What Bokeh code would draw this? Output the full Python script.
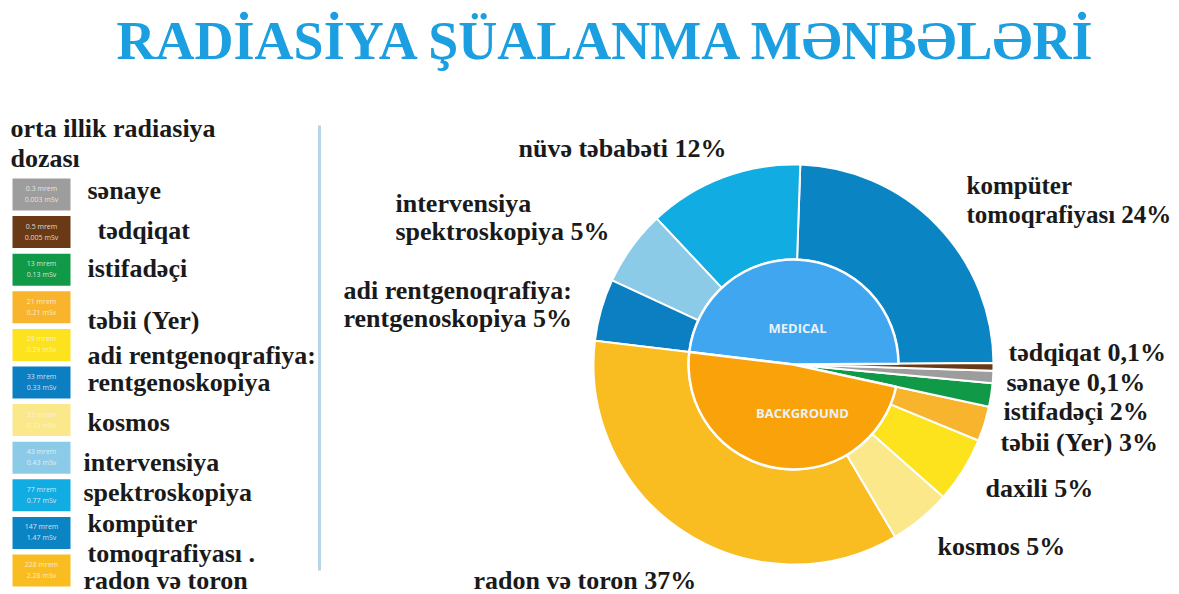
import numpy as np
from bokeh.plotting import figure
from bokeh.models import Range1d
from bokeh.core.properties import value
from bokeh.embed import file_html
from bokeh.resources import INLINE

# ---------------- data ----------------
title_text = "RADİASİYA ŞÜALANMA MƏNBƏLƏRİ"

# outer ring, counter-clockwise from the right
slice_names = ["kompüter tomoqrafiyası", "nüvə təbabəti", "intervensiya spektroskopiya",
               "adi rentgenoqrafiya", "radon və toron", "kosmos", "daxili", "təbii (Yer)",
               "istifadəçi", "sənaye", "tədqiqat"]
slice_group = ["medical", "medical", "medical", "medical",
               "background", "background", "background", "background",
               "other", "other", "other"]
slice_share = [24.3, 12.5, 6.1, 5.0, 35.3, 5.0, 5.3, 2.8, 1.9, 1.0, 0.6]   # visual share of circle, %
slice_colors = ["#0b84c4", "#10ace2", "#8bcbe8", "#0b7fc1", "#f9bd21", "#fbe88b",
                "#fde21e", "#f8b42c", "#109a47", "#9d9d9d", "#6a3a16"]

group_names = ["medical", "background"]
group_labels = ["MEDICAL", "BACKGROUND"]
group_colors = ["#40a6f0", "#f9a20a"]

# legend (left)
legend_mrem = ["0.3 mrem", "0.5 mrem", "13 mrem", "21 mrem", "29 mrem", "33 mrem",
               "33 mrem", "43 mrem", "77 mrem", "147 mrem", "228 mrem"]
legend_msv = ["0.003 mSv", "0.005 mSv", "0.13 mSv", "0.21 mSv", "0.29 mSv", "0.33 mSv",
              "0.33 mSv", "0.43 mSv", "0.77 mSv", "1.47 mSv", "2.28 mSv"]
legend_colors = ["#9d9d9d", "#6a3a16", "#109a47", "#f8b42c", "#fde21e", "#0b7fc1",
                 "#fbe88b", "#8bcbe8", "#10ace2", "#0b84c4", "#f9bd21"]
legend_texts = ["sənaye", "tədqiqat", "istifadəçi", "təbii (Yer)", "adi rentgenoqrafiya:",
                "rentgenoskopiya", "kosmos", "intervensiya", "spektroskopiya", "kompüter",
                "tomoqrafiyası .", "radon və toron"]

# pie labels
pie_label_texts = ["nüvə təbabəti 12%", "kompüter", "tomoqrafiyası 24%", "intervensiya",
                   "spektroskopiya 5%", "adi rentgenoqrafiya:", "rentgenoskopiya 5%",
                   "tədqiqat 0,1%", "sənaye 0,1%", "istifadəçi 2%", "təbii (Yer) 3%",
                   "daxili 5%", "kosmos 5%", "radon və toron 37%"]

# ---------------- layout helpers ----------------
W, H = 1179, 594
def Y(py):
    return H - py

p = figure(width=W, height=H, output_backend="svg", toolbar_location=None,
           x_range=Range1d(0, W), y_range=Range1d(0, H),
           min_border=0, background_fill_color="white", border_fill_color="white")
p.axis.visible = False
p.grid.visible = False
p.outline_line_color = None

serif = value("Liberation Serif")
sans = value("Open Sans")

# title
p.text(x=[607], y=[Y(40)], text=[title_text], text_font=serif, text_font_size="54px",
       text_font_style="bold", text_color="#1c9fe0", text_align="center",
       text_baseline="middle")

# divider
p.segment(x0=[319], y0=[Y(125)], x1=[319], y1=[Y(570)], line_color="#b8d5e6", line_width=3)

# ---------------- pie ----------------
cx, cy = 793, Y(364)
r_in, r_out = 105, 200
start0 = np.deg2rad(0.4)
share = np.array(slice_share, dtype=float)
ang = share / share.sum() * 2 * np.pi
ends = start0 + np.cumsum(ang)
starts = ends - ang

inner_r = [r_in if g != "other" else 18 for g in slice_group]
p.annular_wedge(x=cx, y=cy, inner_radius=inner_r, outer_radius=r_out,
                start_angle=list(starts), end_angle=list(ends),
                fill_color=slice_colors, line_color="white", line_width=2)

for gname, gcol in zip(group_names, group_colors):
    idx = [i for i, g in enumerate(slice_group) if g == gname]
    p.wedge(x=cx, y=cy, radius=r_in, start_angle=starts[idx[0]], end_angle=ends[idx[-1]],
            fill_color=gcol, line_color="white", line_width=2.5)

p.text(x=[797, 802], y=[Y(327), Y(412)], text=group_labels, text_font=sans,
       text_font_size="13px", text_font_style="bold", text_color="#e9f2fb",
       text_align="center", text_baseline="middle")

# pie labels
pl_x = [518, 966, 966, 395, 395, 343, 343, 1008, 1006, 1003, 1000, 985, 937, 473]
pl_y = [148, 185, 214, 203, 231, 290, 318, 352, 382, 411, 442, 488, 546, 580]
pl_size = ["26px", "25px", "25px"] + ["26px"] * 11
p.text(x=pl_x, y=[Y(v) for v in pl_y], text=pie_label_texts, text_font=serif,
       text_font_size=pl_size, text_font_style="bold", text_color="#1a1a1a",
       text_align="left", text_baseline="middle")

# ---------------- legend ----------------
p.text(x=[10, 10], y=[Y(128), Y(158)], text=["orta illik radiasiya", "dozası"],
       text_font=serif, text_font_size="26px", text_font_style="bold",
       text_color="#1a1a1a", text_align="left", text_baseline="middle")

n = len(legend_colors)
tops = [178 + i * 37.6 for i in range(n)]
p.quad(left=12, right=70, top=[Y(t) for t in tops], bottom=[Y(t + 32) for t in tops],
       fill_color=legend_colors, line_color=None)
p.text(x=[41] * n, y=[Y(t + 10) for t in tops], text=legend_mrem, text_font=sans,
       text_font_size="7px", text_color="#f4f4f4", text_alpha=0.85,
       text_align="center", text_baseline="middle")
p.text(x=[41] * n, y=[Y(t + 21) for t in tops], text=legend_msv, text_font=sans,
       text_font_size="7px", text_color="#f4f4f4", text_alpha=0.85,
       text_align="center", text_baseline="middle")

lt_x = [87, 97, 87, 87, 87, 87, 87, 83, 83, 87, 87, 83]
lt_y = [190, 230, 268, 320, 355, 382, 422, 462, 492, 523, 553, 580]
p.text(x=lt_x, y=[Y(v) for v in lt_y], text=legend_texts, text_font=serif,
       text_font_size="26px", text_font_style="bold", text_color="#1a1a1a",
       text_align="left", text_baseline="middle")

open("out.html", "w").write(file_html(p, INLINE))
